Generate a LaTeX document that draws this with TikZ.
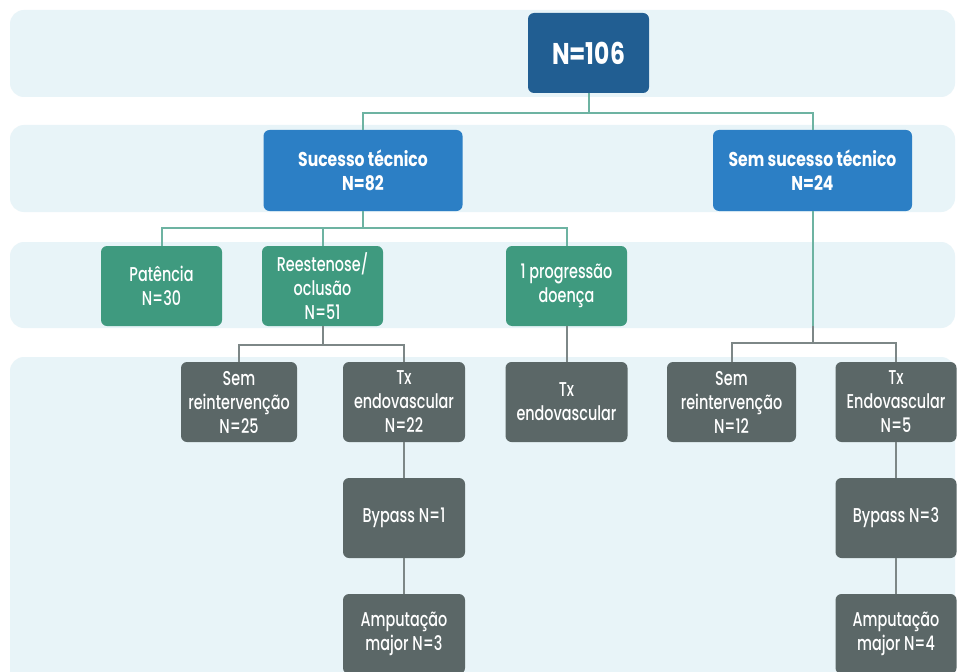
\documentclass[tikz,border=0pt]{standalone}
\usepackage{fontspec}
\setmainfont{Poppins}[UprightFont=* Medium, BoldFont=* Bold, FakeStretch=0.72, BoldFeatures={FakeStretch=0.78}]
\usetikzlibrary{positioning}

\definecolor{bandbg}{HTML}{E8F4F8}
\definecolor{rootblue}{HTML}{215E92}
\definecolor{techblue}{HTML}{2C7FC5}
\definecolor{leafgreen}{HTML}{3F9A7F}
\definecolor{slategray}{HTML}{5B6767}
\definecolor{linkteal}{HTML}{6DB3A2}
\definecolor{linkgray}{HTML}{7D8787}

\tikzset{
  box/.style={rounded corners=6pt, text=white, align=center, minimum height=80pt, inner sep=2pt, font=\fontsize{20}{24}\selectfont},
  rootbox/.style={box, fill=rootblue, minimum width=121pt, font=\fontsize{30}{34}\selectfont\bfseries},
  techbox/.style={box, fill=techblue, minimum width=199pt, minimum height=81pt, font=\fontsize{20}{24}\selectfont\bfseries},
  greenbox/.style={box, fill=leafgreen, minimum width=121pt},
  graybox/.style={box, fill=slategray, minimum width=122pt},
  tealline/.style={draw=linkteal, line width=2pt},
  grayline/.style={draw=linkgray, line width=2pt},
  band/.style={fill=bandbg, rounded corners=14pt}
}

\begin{document}
\begin{tikzpicture}[x=1pt, y=-1pt]
    \fill[white] (0,0) rectangle (957,671);
    \useasboundingbox (0,0) rectangle (957,671);

    % background bands
    \fill[band] (10,10) rectangle (955,97);
    \fill[band] (10,125) rectangle (955,212);
    \fill[band] (10,242) rectangle (955,328);
    \fill[band] (10,357) rectangle (955,700);

    \node[rootbox] (root) at (588.5,53) {N=106};

    \node[techbox] (suc) at (363,170.5) {Sucesso técnico\\N=82};
    \node[techbox] (sem) at (812.5,170.5) {Sem sucesso técnico\\N=24};

    \node[greenbox] (pat) at (161.5,286) {Patência\\N=30};
    \node[greenbox, right of=pat, node distance=161pt] (ree) {Reestenose/\\oclusão\\N=51};
    \node[greenbox] (prog) at (566.5,286) {1 progressão\\doença};

    \node[graybox, minimum width=116pt] (semr1) at (239,402) {Sem\\reintervenção\\N=25};
    \node[graybox] (tx1) at (404,402) {Tx\\endovascular\\N=22};
    \node[graybox, below of=prog, node distance=116pt] (tx3) {Tx\\endovascular};
    \node[graybox, minimum width=129pt] (semr2) at (731.5,402) {Sem\\reintervenção\\N=12};
    \node[graybox, minimum width=121pt] (tx2) at (896,402) {Tx\\Endovascular\\N=5};

    \node[graybox, below of=tx1, node distance=116pt] (by1) {Bypass N=1};
    \node[graybox, below of=by1, node distance=116pt] (am1) {Amputação\\major N=3};
    \node[graybox, minimum width=121pt, below of=tx2, node distance=116pt] (by2) {Bypass N=3};
    \node[graybox, minimum width=121pt, below of=by2, node distance=116pt] (am2) {Amputação\\major N=4};

    \draw[tealline] (root.south) -- ++(0,20) -| (suc.north);
    \draw[tealline] (root.south) -- ++(0,20) -| (sem.north);

    \draw[tealline] (suc.south) -- ++(0,17) -| (pat.north);
    \draw[tealline] (suc.south) -- ++(0,17) -| (ree.north);
    \draw[tealline] (suc.south) -- ++(0,17) -| (prog.north);

    \draw[grayline] (ree.south) -- ++(0,19) -| (semr1.north);
    \draw[grayline] (ree.south) -- ++(0,19) -| (tx1.north);
    \draw[grayline] (prog.south) -- (tx3.north);

    \coordinate (semmid) at (sem.south |- prog.south);
    \draw[tealline] (sem.south) -- (semmid);
    \draw[grayline] (semmid) -- ++(0,17) -| (semr2.north);
    \draw[grayline] (semmid) -- ++(0,17) -| (tx2.north);

    \draw[grayline] (tx1) -- (by1);
    \draw[grayline] (by1) -- (am1);
    \draw[grayline] (tx2) -- (by2);
    \draw[grayline] (by2) -- (am2);
\end{tikzpicture}
\end{document}
